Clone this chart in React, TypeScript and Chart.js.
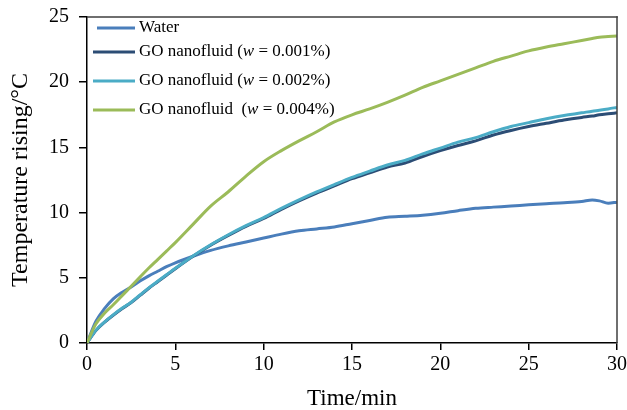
import React, { useEffect, useRef } from "react";
import { Chart, registerables } from "chart.js";

Chart.register(...registerables);

const times = [0, 0.5, 1, 1.5, 2, 2.5, 3, 3.5, 4, 4.5, 5, 6, 7, 8, 9, 10, 11, 12, 13, 14, 15, 16, 17, 18, 19, 20, 21, 22, 23, 24, 25, 26, 27, 28, 28.6, 29, 29.5, 30];

const water = [0, 1.65, 2.65, 3.4, 3.9, 4.3, 4.75, 5.15, 5.5, 5.85, 6.15, 6.65, 7.1, 7.45, 7.75, 8.05, 8.35, 8.6, 8.75, 8.9, 9.15, 9.4, 9.65, 9.72, 9.8, 9.95, 10.15, 10.33, 10.42, 10.5, 10.6, 10.68, 10.75, 10.85, 10.97, 10.9, 10.72, 10.8];

const go001 = [0, 0.95, 1.6, 2.15, 2.65, 3.1, 3.65, 4.2, 4.7, 5.2, 5.7, 6.65, 7.5, 8.25, 8.95, 9.55, 10.25, 10.9, 11.5, 12.05, 12.6, 13.05, 13.5, 13.8, 14.3, 14.75, 15.15, 15.5, 15.95, 16.3, 16.6, 16.85, 17.1, 17.3, 17.4, 17.5, 17.58, 17.65];

const go002 = [0, 0.97, 1.62, 2.18, 2.68, 3.13, 3.68, 4.23, 4.73, 5.23, 5.73, 6.68, 7.53, 8.3, 9.0, 9.62, 10.32, 10.97, 11.58, 12.15, 12.7, 13.18, 13.65, 14.0, 14.5, 14.95, 15.4, 15.75, 16.2, 16.6, 16.9, 17.2, 17.45, 17.65, 17.78, 17.85, 17.95, 18.07];

const go004 = [0, 1.45, 2.3, 2.95, 3.65, 4.35, 5.05, 5.75, 6.4, 7.05, 7.7, 9.1, 10.5, 11.6, 12.8, 13.9, 14.75, 15.5, 16.2, 16.95, 17.5, 17.95, 18.45, 19.0, 19.6, 20.1, 20.6, 21.1, 21.6, 22.0, 22.4, 22.7, 22.95, 23.2, 23.35, 23.45, 23.5, 23.55];

const seriesLabels = [
  "Water",
  "GO nanofluid (w = 0.001%)",
  "GO nanofluid (w = 0.002%)",
  "GO nanofluid  (w = 0.004%)",
];
const seriesColors = ["#4a7ebb", "#2c4d75", "#4bacc6", "#9bbb59"];
const seriesValues = [water, go001, go002, go004];

const xTitle = "Time/min";
const yTitle = "Temperature rising/\u00b0C";

const FONT = "'Liberation Serif', 'Times New Roman', serif";

const legendRows = [28, 52, 81, 110];

const framePlugin = {
  id: "frameAndLegend",
  afterDraw(chart: any) {
    const { ctx, chartArea } = chart;
    const { left, top, right, bottom } = chartArea;
    ctx.save();
    ctx.fillStyle = "#404040";
    ctx.fillRect(left, top - 0.75, right - left + 0.75, 1.5);
    ctx.fillRect(right - 0.75, top - 0.75, 1.5, bottom - top + 0.75);

    // legend
    ctx.textBaseline = "middle";
    seriesLabels.forEach((label, i) => {
      const y = legendRows[i];
      ctx.strokeStyle = seriesColors[i];
      ctx.lineWidth = 3;
      ctx.beginPath();
      ctx.moveTo(i === 0 ? 97 : 93, y);
      ctx.lineTo(135, y);
      ctx.stroke();
      let x = 139;
      ctx.fillStyle = "#000";
      const idx = label.indexOf("(w");
      if (idx < 0) {
        ctx.font = `17px ${FONT}`;
        ctx.fillText(label, x, y);
      } else {
        const p1 = label.slice(0, idx + 1);
        const p2 = "w";
        const p3 = label.slice(idx + 2);
        ctx.font = `17px ${FONT}`;
        ctx.fillText(p1, x, y);
        x += ctx.measureText(p1).width;
        ctx.font = `italic 17px ${FONT}`;
        ctx.fillText(p2, x, y);
        x += ctx.measureText(p2).width;
        ctx.font = `17px ${FONT}`;
        ctx.fillText(p3, x, y);
      }
    });
    ctx.restore();
  },
};

export default function App() {
  const ref = useRef<HTMLCanvasElement>(null);
  useEffect(() => {
    document.body.style.margin = "0";
    const chart = new Chart(ref.current!, {
      type: "line",
      data: {
        datasets: seriesValues.map((vals, i) => ({
          label: seriesLabels[i],
          data: vals.map((v, k) => ({ x: times[k], y: v })),
          borderColor: seriesColors[i],
          backgroundColor: seriesColors[i],
          borderWidth: 3,
          pointRadius: 0,
          cubicInterpolationMode: "monotone" as const,
          order: 3 - i,
        })),
      },
      options: {
        animation: false,
        responsive: true,
        maintainAspectRatio: false,
        layout: { padding: { top: 17, right: 10, left: 0, bottom: 0 } },
        plugins: {
          legend: { display: false },
          tooltip: { enabled: false },
        },
        scales: {
          x: {
            type: "linear",
            min: 0,
            max: 30,
            afterFit: (s: any) => {
              s.height = 67;
              s.paddingRight = 10;
              s.paddingLeft = 0;
            },
            ticks: {
              stepSize: 5,
              color: "#000",
              font: { family: FONT, size: 20 },
              padding: 3,
              maxRotation: 0,
            },
            grid: {
              drawOnChartArea: false,
              drawTicks: true,
              tickLength: 7,
              color: "#000",
              tickColor: "#000",
              lineWidth: 1.5,
              tickWidth: 1.5,
            },
            border: { color: "#000", width: 1.5 },
            title: {
              display: true,
              text: xTitle,
              color: "#000",
              font: { family: FONT, size: 23, lineHeight: 1 },
              padding: { top: 0, bottom: 0 },
            },
          },
          y: {
            type: "linear",
            min: 0,
            max: 25,
            afterFit: (s: any) => {
              s.width = 87;
              s.paddingTop = 0;
            },
            ticks: {
              stepSize: 5,
              color: "#000",
              font: { family: FONT, size: 20 },
              padding: 10,
            },
            grid: {
              drawOnChartArea: false,
              drawTicks: true,
              tickLength: 8,
              color: "#000",
              tickColor: "#000",
              lineWidth: 1.5,
              tickWidth: 1.5,
            },
            border: { color: "#000", width: 1.5 },
            title: {
              display: true,
              text: yTitle,
              color: "#000",
              font: { family: FONT, size: 24, lineHeight: 1 },
              padding: { top: 9, bottom: 0 },
            },
          },
        },
      },
      plugins: [framePlugin],
    });
    return () => chart.destroy();
  }, []);
  return (
    <div style={{ position: "relative", width: 627, height: 410 }}>
      <canvas ref={ref} />
    </div>
  );
}
